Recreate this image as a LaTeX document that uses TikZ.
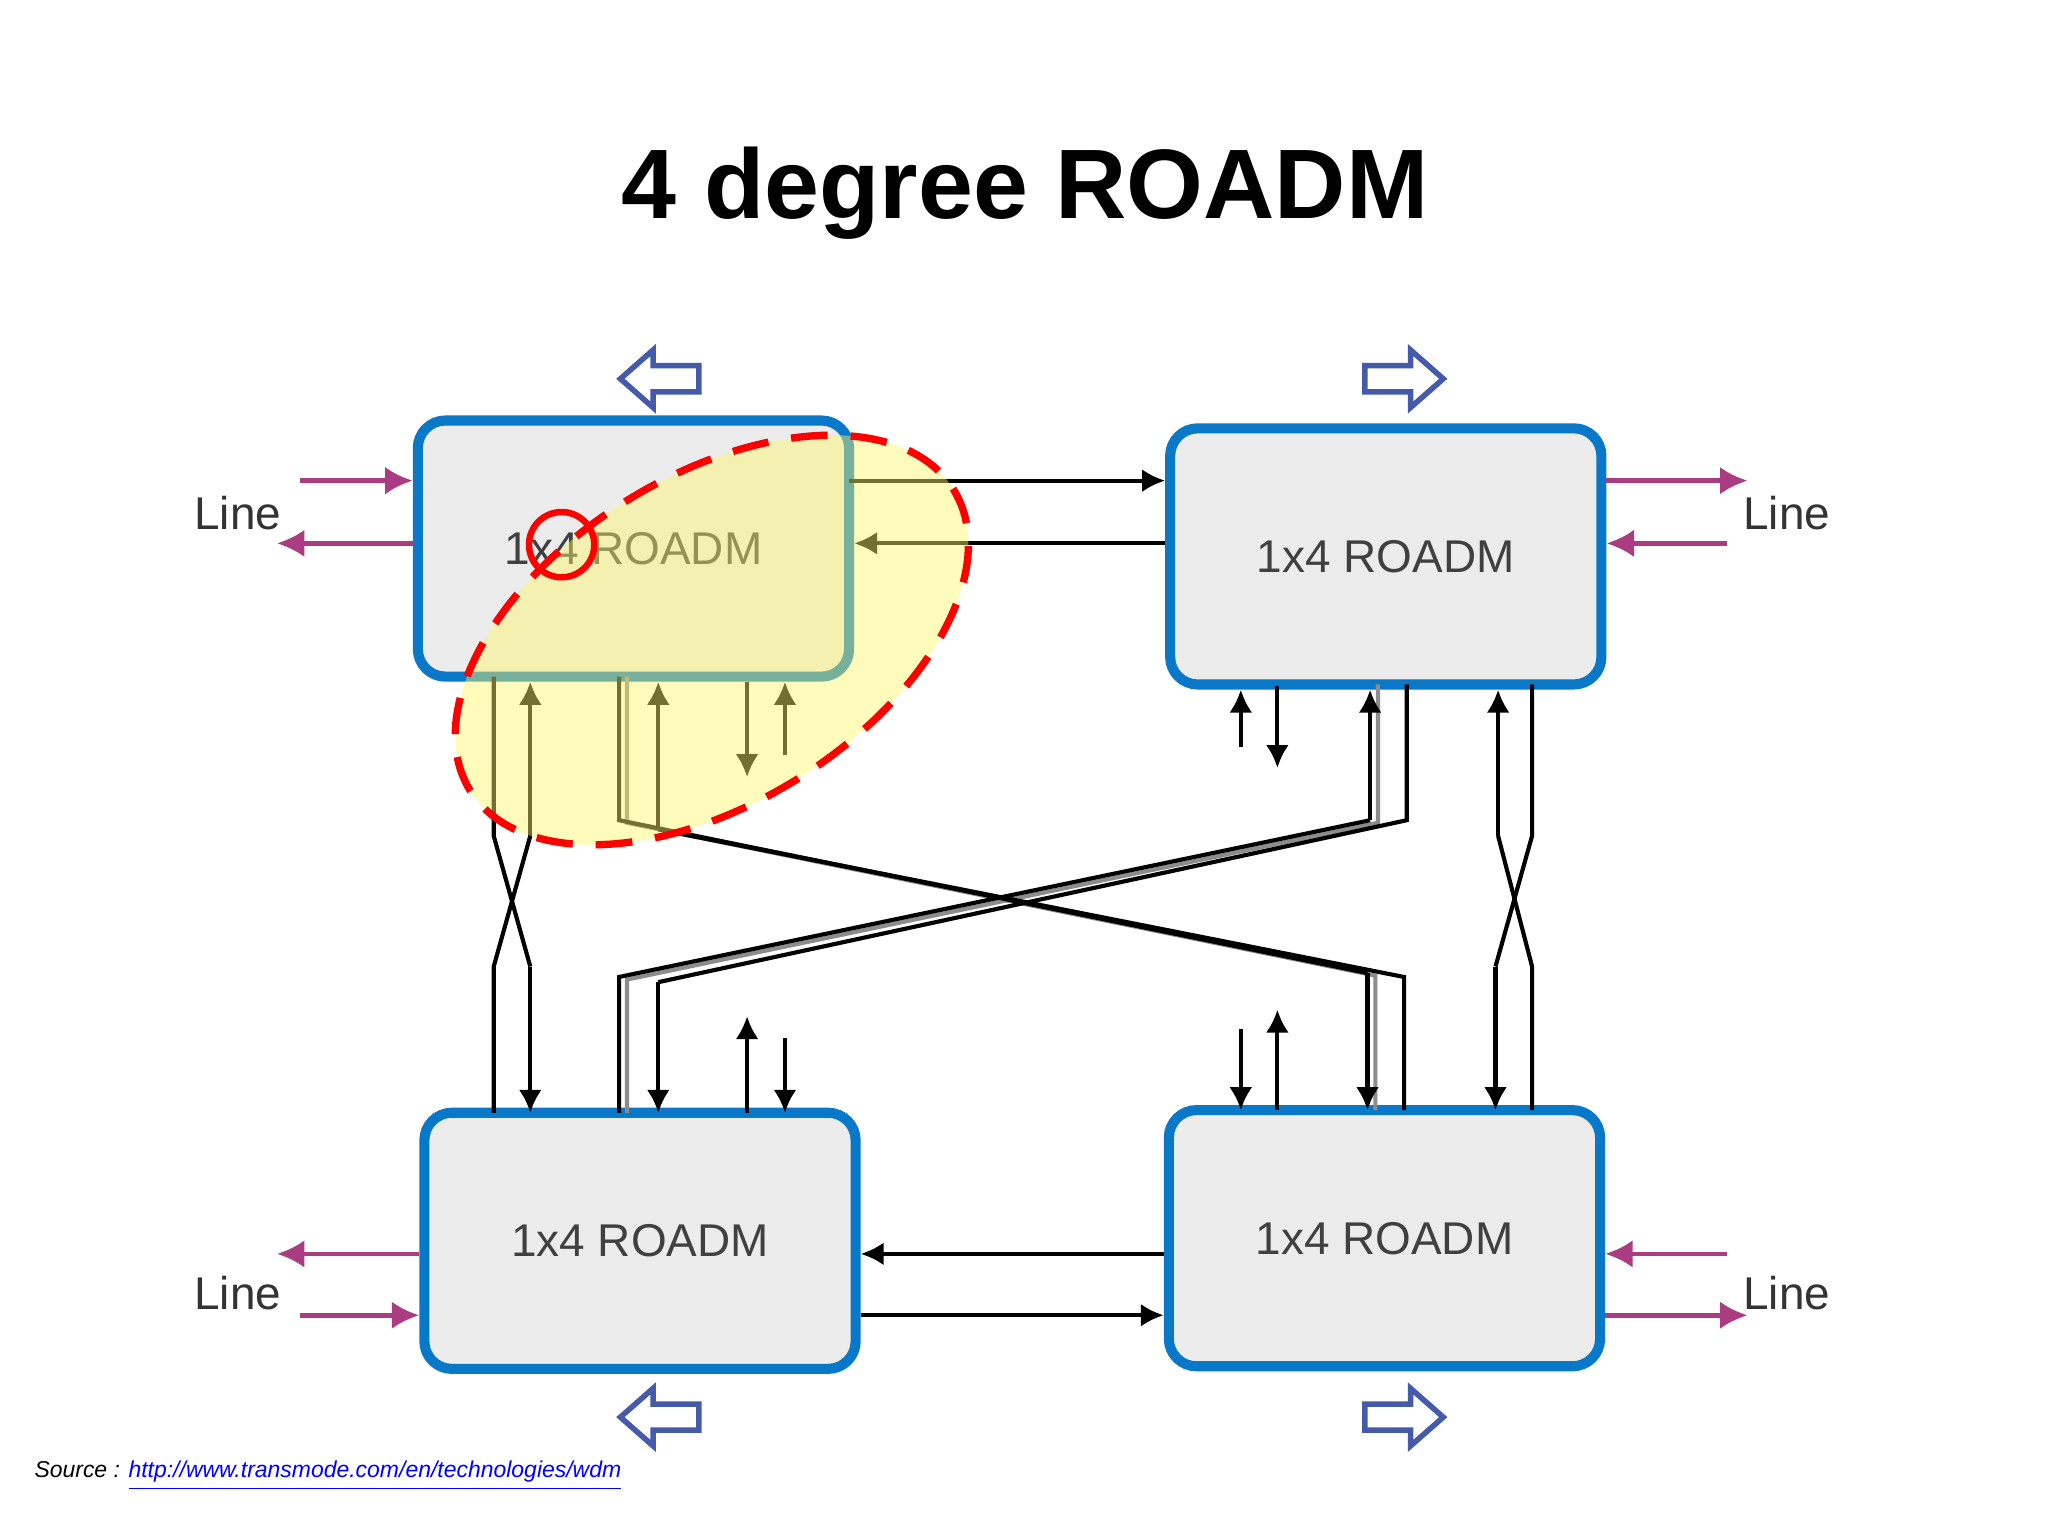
\documentclass[tikz,border=0pt]{standalone}
\usepackage{fontspec}
\setmainfont{Liberation Sans}
\usetikzlibrary{arrows.meta}
\definecolor{bblue}{RGB}{10,120,200}
\definecolor{mag}{RGB}{170,60,130}
\definecolor{boxfill}{RGB}{236,236,236}
\definecolor{hol}{RGB}{70,90,170}
\begin{document}
\begin{tikzpicture}[x=0.01cm,y=-0.01cm,
 rbox/.style={draw=bblue,line width=2.2pt,fill=boxfill,rounded corners=6pt,minimum width=3.3cm,minimum height=1.96cm,font=\fontsize{10}{12}\selectfont,text=black!75},
 marrow/.style={draw=mag,line width=1pt,-{Latex[length=6pt,width=6pt]}},
 karrow/.style={draw=black,line width=0.9pt,-{Latex[length=5pt,width=5pt]}},
 kline/.style={draw=black,line width=0.9pt},
 gline/.style={draw=black!45,line width=0.9pt},
 linelbl/.style={font=\fontsize{10}{12}\selectfont,text=black!80}]
\useasboundingbox (0,0) rectangle (1568,1176);
\fill[white] (0,0) rectangle (1568,1176);
\node (title) at (785,148) {\fontsize{21.5}{25}\selectfont\bfseries 4 degree ROADM};
% boxes
\node[rbox] (tl) at (485,420) {1x4 ROADM};
\node[rbox] (tr) at (1061,426) {1x4 ROADM};
\node[rbox] (bl) at (490,950) {1x4 ROADM};
\node[rbox] (br) at (1060,948) {1x4 ROADM};
% line ports
\node[linelbl] (ltl) at (182,393) {Line};
\node[linelbl] (ltr) at (1368,393) {Line};
\node[linelbl] (lbl) at (182,990) {Line};
\node[linelbl] (lbr) at (1368,990) {Line};
\coordinate (a1) at (230,368); \coordinate (a2) at (212,416);
\draw[marrow] (a1) -- (a1 -| tl.west);
\draw[marrow] (tl.west |- a2) -- (a2);
\coordinate (b1) at (1338,368); \coordinate (b2) at (1322,416);
\draw[marrow] (tr.east |- b1) -- (b1);
\draw[marrow] (b2) -- (b2 -| tr.east);
\coordinate (c1) at (212,960); \coordinate (c2) at (230,1007);
\draw[marrow] (bl.west |- c1) -- (c1);
\draw[marrow] (c2) -- (c2 -| bl.west);
\coordinate (d1) at (1322,960); \coordinate (d2) at (1338,1007);
\draw[marrow] (d1) -- (d1 -| br.east);
\draw[marrow] (br.east |- d2) -- (d2);
% horizontal links
\coordinate (h1) at (650,368); \coordinate (h2) at (650,416);
\draw[karrow] (h1) -- (h1 -| tr.west);
\draw[karrow] (tr.west |- h2) -- (h2 -| tl.east);
\coordinate (h3) at (655,960); \coordinate (h4) at (655,1007);
\draw[karrow] (br.west |- h3) -- (h3 -| bl.east);
\draw[karrow] (h4 -| bl.east) -- (h4 -| br.west);
% vertical crossing TL-BL
\draw[kline] (378,518) -- (378,640) -- (406,740);
\draw[karrow] (406,740) -- (406,852);
\draw[kline] (378,852) -- (378,740) -- (406,640);
\draw[karrow] (406,640) -- (406,522);
% TR-BR
\draw[kline] (1173,524) -- (1173,640) -- (1145,740);
\draw[karrow] (1145,740) -- (1145,850);
\draw[kline] (1173,850) -- (1173,740) -- (1147,640);
\draw[karrow] (1147,640) -- (1147,528);
% diagonals
\draw[gline] (480,518) -- (480,630) -- (1053,747) -- (1053,850);
\draw[gline] (480,852) -- (480,750) -- (1055,630) -- (1055,524);
\draw[kline] (474,518) -- (474,628) -- (1047,745);
\draw[karrow] (1047,745) -- (1047,850);
\draw[kline] (1075,850) -- (1075,748) -- (504,635);
\draw[karrow] (504,635) -- (504,522);
\draw[kline] (1077,524) -- (1077,628) -- (504,752);
\draw[karrow] (504,752) -- (504,852);
\draw[kline] (474,852) -- (474,748) -- (1049,628);
\draw[karrow] (1049,628) -- (1049,528);
% add/drop
\draw[karrow] (572,522) -- (572,595);
\draw[karrow] (601,578) -- (601,522);
\draw[karrow] (950,572) -- (950,528);
\draw[karrow] (978,525) -- (978,588);
\draw[karrow] (572,852) -- (572,778);
\draw[karrow] (601,795) -- (601,852);
\draw[karrow] (950,788) -- (950,850);
\draw[karrow] (978,850) -- (978,773);
% hollow arrows
\foreach \cx/\cy/\d in {505/290/-1,1075/290/1,505/1085/-1,1075/1085/1}{
 \draw[hol,line width=1.2pt,fill=white] (\cx-30*\d,\cy-10) -- (\cx+5*\d,\cy-10) -- (\cx+5*\d,\cy-22) -- (\cx+30*\d,\cy) -- (\cx+5*\d,\cy+22) -- (\cx+5*\d,\cy+10) -- (\cx-30*\d,\cy+10) -- cycle;}
% highlight
\fill[yellow!60,opacity=0.45] (545,490) ellipse[x radius=218,y radius=125,rotate=32];
\draw[red,line width=1.6pt,dash pattern=on 8pt off 5pt] (545,490) ellipse[x radius=218,y radius=125,rotate=32];
\draw[red,line width=1.4pt] (430,417) circle (25);
\node[anchor=west,font=\fontsize{5}{6}\selectfont\itshape] (src) at (14,1130) {Source : \textcolor{blue}{\underline{http://www.transmode.com/en/technologies/wdm}}};
\end{tikzpicture}
\end{document}
